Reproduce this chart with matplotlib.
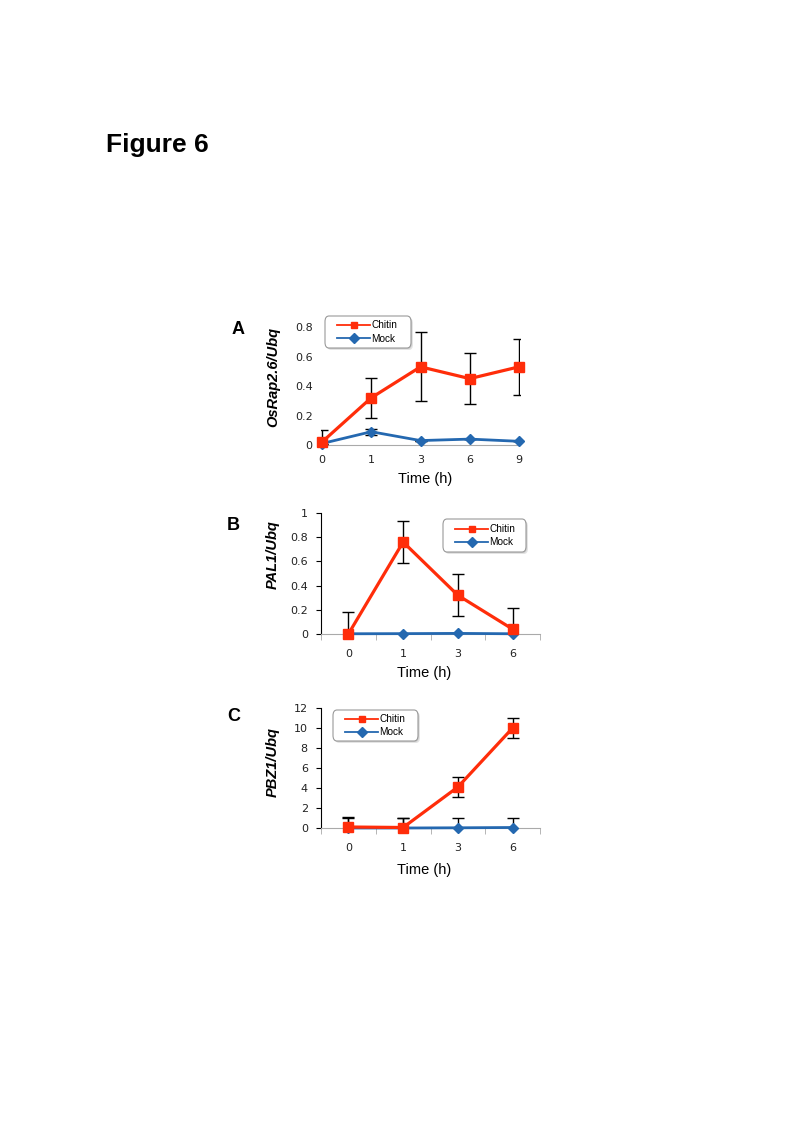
import matplotlib
matplotlib.use("Agg")
import matplotlib.pyplot as plt
from matplotlib.lines import Line2D
from matplotlib.patches import FancyBboxPatch
import numpy as np

plt.rcParams['font.family'] = ['Liberation Sans', 'DejaVu Sans']

# Panel A - OsRap2.6
times_a = ['0', '1', '3', '6', '9']
chitin_a = [0.02, 0.32, 0.53, 0.45, 0.53]
chitin_a_err = [0.08, 0.135, 0.235, 0.175, 0.19]
mock_a = [0.01, 0.09, 0.03, 0.04, 0.025]
mock_a_err = [0.0, 0.02, 0.0, 0.0, 0.0]

# Panel B - PAL1
times_b = ['0', '1', '3', '6']
chitin_b = [0.0, 0.76, 0.32, 0.04]
chitin_b_err = [0.18, 0.175, 0.175, 0.175]
mock_b = [0.002, 0.003, 0.005, 0.002]

# Panel C - PBZ1
times_c = ['0', '1', '3', '6']
chitin_c = [0.1, 0.05, 4.1, 10.0]
chitin_c_err = [1.0, 1.0, 1.0, 1.0]
mock_c = [0.0, 0.0, 0.02, 0.05]
mock_c_err = [1.0, 1.0, 1.0, 1.0]

W, H = 800, 1132
RED = '#ff2d0a'
BLUE = '#2468b0'
TICKFONT = ['DejaVu Sans']

fig = plt.figure(figsize=(W / 100, H / 100), dpi=100)


def px_axes(x0, x1, ytop, ybot):
    return fig.add_axes([x0 / W, 1 - ybot / H, (x1 - x0) / W, (ybot - ytop) / H])


def fx(x):
    return x / W


def fy(y):
    return 1 - y / H


def draw(ax, times, chitin, cerr, mock, merr):
    x = np.arange(len(times))
    if merr is not None:
        ax.errorbar(x, mock, yerr=merr, fmt='none', ecolor='black', elinewidth=1,
                    capsize=4, capthick=1, zorder=3)
    ax.plot(x, mock, color=BLUE, lw=2, marker='D', ms=5.5, zorder=4, clip_on=False)
    ax.errorbar(x, chitin, yerr=cerr, fmt='none', ecolor='black', elinewidth=1,
                capsize=4, capthick=1, zorder=5)
    ax.plot(x, chitin, color=RED, lw=2.3, marker='s', ms=7.5, zorder=6, clip_on=False)
    ax.set_xticks(x)
    ax.set_xticklabels(times)
    ax.tick_params(axis='both', labelsize=8, labelcolor='#222222')
    ax.spines['top'].set_visible(False)
    ax.spines['right'].set_visible(False)
    ax.spines['bottom'].set_color('#aaaaaa')


def set_tick_font(ax):
    for lab in ax.get_xticklabels() + ax.get_yticklabels():
        lab.set_family(TICKFONT)


def add_legend(ax, x0, x1, y0, y1):
    # rounded frame with a soft shadow, then the entries without frame
    for off, col in [(2, '#e4e4e4'), (1, '#cccccc')]:
        fig.patches.append(FancyBboxPatch(
            (fx(x0 + off), fy(y1 + off)), fx(x1) - fx(x0), fy(y0) - fy(y1),
            boxstyle='round,pad=0,rounding_size=0.005', transform=fig.transFigure,
            facecolor=col, edgecolor='none', zorder=8))
    fig.patches.append(FancyBboxPatch(
        (fx(x0), fy(y1)), fx(x1) - fx(x0), fy(y0) - fy(y1),
        boxstyle='round,pad=0,rounding_size=0.005', transform=fig.transFigure,
        facecolor='white', edgecolor='#9a9a9a', lw=0.8, zorder=9))
    handles = [Line2D([], [], color=RED, lw=1.3, marker='s', ms=5),
               Line2D([], [], color=BLUE, lw=1.3, marker='D', ms=5)]
    leg = fig.legend(handles, ['Chitin', 'Mock'], loc='center left',
                     bbox_to_anchor=(fx(x0 + 12), fy((y0 + y1) / 2)),
                     bbox_transform=fig.transFigure, fontsize=7.2, frameon=False,
                     handlelength=3.3, handletextpad=0.15, borderpad=0,
                     borderaxespad=0, labelspacing=0.3)
    leg.set_zorder(10)


def labels(ylabel, ycx, ycy, xcx, xcy):
    fig.text(fx(ycx), fy(ycy), ylabel, rotation=90, ha='center', va='center',
             fontsize=10.5, fontweight='bold', fontstyle='italic')
    fig.text(fx(xcx), fy(xcy), 'Time (h)', ha='center', va='center', fontsize=10.5)


# --- A ---
axA = px_axes(321, 520, 327, 445)
draw(axA, times_a, chitin_a, chitin_a_err, mock_a, mock_a_err)
axA.set_xlim(-0.02, 4.02)
axA.set_ylim(0, 0.8)
axA.set_yticks([0, 0.2, 0.4, 0.6, 0.8])
axA.set_yticklabels(['0', '0.2', '0.4', '0.6', '0.8'])
axA.spines['left'].set_visible(False)
axA.tick_params(axis='y', length=0, pad=6)
axA.tick_params(axis='x', length=0, pad=7)
set_tick_font(axA)
add_legend(axA, 325, 411, 316, 348)
labels('OsRap2.6/Ubq', 273, 377, 425, 479)
fig.text(fx(232), fy(334), 'A', fontsize=13, fontweight='bold', va='baseline')

# --- B ---
axB = px_axes(321, 540, 513, 634)
draw(axB, times_b, chitin_b, chitin_b_err, mock_b, None)
axB.set_xlim(-0.5, 3.5)
axB.set_ylim(0, 1)
axB.set_yticks([0, 0.2, 0.4, 0.6, 0.8, 1])
axB.set_yticklabels(['0', '0.2', '0.4', '0.6', '0.8', '1'])
axB.set_xticks(np.arange(-0.5, 4, 1), minor=True)
axB.tick_params(axis='x', which='major', length=0, pad=11)
axB.tick_params(axis='x', which='minor', length=4, color='#aaaaaa')
axB.tick_params(axis='y', length=3.5, pad=6)
set_tick_font(axB)
add_legend(axB, 443, 526, 519, 552)
labels('PAL1/Ubq', 273, 555, 424, 673)
fig.text(fx(227), fy(530), 'B', fontsize=13, fontweight='bold', va='baseline')

# --- C ---
axC = px_axes(321, 540, 708, 828)
draw(axC, times_c, chitin_c, chitin_c_err, mock_c, mock_c_err)
axC.set_xlim(-0.5, 3.5)
axC.set_ylim(0, 12)
axC.set_yticks(range(0, 13, 2))
axC.set_xticks(np.arange(-0.5, 4, 1), minor=True)
axC.tick_params(axis='x', which='major', length=0, pad=11)
axC.tick_params(axis='x', which='minor', length=4, color='#aaaaaa')
axC.tick_params(axis='y', length=3.5, pad=6)
set_tick_font(axC)
add_legend(axC, 333, 418, 710, 741)
labels('PBZ1/Ubq', 273, 762, 424, 870)
fig.text(fx(227), fy(721), 'C', fontsize=13, fontweight='bold', va='baseline')

fig.text(fx(106), fy(152), 'Figure 6', fontsize=19, fontweight='bold', va='baseline')

fig.savefig('out.png', dpi=100)
